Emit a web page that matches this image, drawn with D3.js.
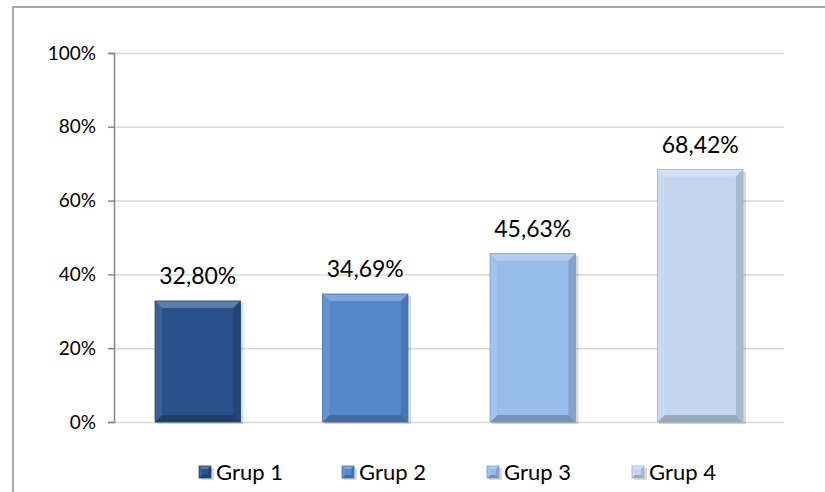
<!DOCTYPE html>
<html><head><meta charset="utf-8">
<script src="https://cdn.jsdelivr.net/npm/d3@7"></script>
<style>body{margin:0;background:#fff}svg{display:block}</style>
</head><body>
<svg id="c" width="825" height="492"></svg>
<script>
const categories = ["Grup 1","Grup 2","Grup 3","Grup 4"];
const values = [0.3280, 0.3469, 0.4563, 0.6842];
const labels = ["32,80%","34,69%","45,63%","68,42%"];
const yTicks = [0,0.2,0.4,0.6,0.8,1.0];
const yTickLabels = ["0%","20%","40%","60%","80%","100%"];
const colors = ["#285189","#5388cc","#97bcea","#c3d7ef"];

const svg = d3.select("#c");
const font = "Lato, 'Open Sans', sans-serif";
// outer border
svg.append("rect").attr("x",13).attr("y",7).attr("width",830).attr("height",500)
  .attr("fill","none").attr("stroke","#8c8c8c").attr("stroke-width",1.5);

const m = {l:114, r:784, t:53, b:422};
const x = d3.scaleBand().domain(categories).range([m.l,m.r]).paddingInner(0.49).paddingOuter(0.245);
const y = d3.scaleLinear().domain([0,1]).range([m.b,m.t]);

// gridlines
svg.append("g").selectAll("line").data(yTicks).join("line")
  .attr("x1",m.l).attr("x2",m.r).attr("y1",d=>y(d)+0.5).attr("y2",d=>y(d)+0.5)
  .attr("stroke","#d9d9d9").attr("stroke-width",1.5);

// y axis
const ax = svg.append("g").attr("transform",`translate(${m.l},0)`)
  .call(d3.axisLeft(y).tickValues(yTicks).tickSize(6).tickPadding(12).tickFormat((d,i)=>yTickLabels[i]));
ax.select(".domain").attr("stroke","#868686").attr("stroke-width",1.5);
ax.selectAll(".tick line").attr("stroke","#868686").attr("stroke-width",1.5);
ax.selectAll("text").attr("font-family",font).attr("font-size",19).attr("fill","#000");

function bevel(g, x0, y0, w, h, col, b) {
  const c = d3.color(col);
  const light = d3.interpolateRgb(col,"#ffffff")(0.25);
  const dark = c.darker(0.7).formatHex();
  const darkS = c.darker(0.4).formatHex();
  const lightS = d3.interpolateRgb(col,"#ffffff")(0.1);
  g.append("rect").attr("x",x0+2).attr("y",y0+2).attr("width",w+1).attr("height",h)
    .attr("fill","#000").attr("opacity",0.15);
  g.append("rect").attr("x",x0).attr("y",y0).attr("width",w).attr("height",h).attr("fill",col);
  const x1=x0+w, y1=y0+h;
  const poly=(pts,f)=>g.append("polygon").attr("points",pts.map(p=>p.join(",")).join(" ")).attr("fill",f);
  poly([[x0,y0],[x1,y0],[x1-b,y0+b],[x0+b,y0+b]], light);
  poly([[x0,y1],[x1,y1],[x1-b,y1-b],[x0+b,y1-b]], dark);
  poly([[x0,y0],[x0+b,y0+b],[x0+b,y1-b],[x0,y1]], lightS);
  poly([[x1,y0],[x1-b,y0+b],[x1-b,y1-b],[x1,y1]], darkS);
  g.append("rect").attr("x",x0).attr("y",y0).attr("width",w).attr("height",h)
    .attr("fill","none").attr("stroke",c.darker(0.5).formatHex()).attr("stroke-width",0.8);
}

const bars = svg.append("g");
categories.forEach((c,i)=>{
  const g = bars.append("g");
  bevel(g, x(c), y(values[i]), x.bandwidth(), y(0)-y(values[i]), colors[i], 7);
});

// data labels
svg.append("g").selectAll("text").data(categories).join("text")
  .attr("x",d=>x(d)+x.bandwidth()/2).attr("y",(d,i)=>y(values[i])-17)
  .attr("text-anchor","middle").attr("font-family",font).attr("font-size",23)
  .text((d,i)=>labels[i]);

// legend
const lg = svg.append("g");
const lx = [199, 342, 487, 632];
categories.forEach((c,i)=>{
  const g = lg.append("g");
  bevel(g, lx[i], 466, 12, 12, colors[i], 3);
  g.append("text").attr("x",lx[i]+17).attr("y",480).attr("font-family",font)
    .attr("font-size",22).text(c);
});
</script>
</body></html>
